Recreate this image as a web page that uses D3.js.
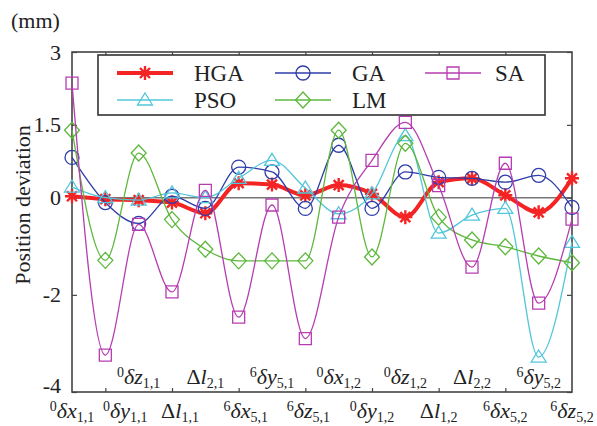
<!DOCTYPE html>
<html>
<head>
<meta charset="utf-8">
<script src="https://cdn.jsdelivr.net/npm/d3@7"></script>
<style>
body { margin: 0; background: #fff; }
svg text { font-family: "Liberation Serif", "Times New Roman", serif; fill: #222; }
</style>
</head>
<body>
<svg width="597" height="426"></svg>
<script>
// category labels: [superscript, symbol, variable, subscript]
const categories = [
  ["0","δ","x","1,1"], ["0","δ","y","1,1"], ["0","δ","z","1,1"], ["","Δ","l","1,1"],
  ["","Δ","l","2,1"], ["6","δ","x","5,1"], ["6","δ","y","5,1"], ["6","δ","z","5,1"],
  ["0","δ","x","1,2"], ["0","δ","y","1,2"], ["0","δ","z","1,2"], ["","Δ","l","1,2"],
  ["","Δ","l","2,2"], ["6","δ","x","5,2"], ["6","δ","y","5,2"], ["6","δ","z","5,2"]
];
const hga = [0.03, -0.03, -0.05, -0.1, -0.32, 0.3, 0.27, 0.05, 0.26, 0.08, -0.4, 0.32, 0.4, 0.05, -0.3, 0.4];
const ga  = [0.83, -0.1, -0.53, 0.03, -0.22, 0.63, 0.53, -0.22, 1.08, -0.22, 0.53, 0.42, 0.4, 0.32, 0.46, -0.2];
const pso = [0.22, 0.0, -0.05, 0.1, 0.0, 0.4, 0.77, 0.2, -0.33, 0.08, 1.28, -0.73, -0.36, -0.22, -3.28, -0.92];
const lm  = [1.39, -1.29, 0.92, -0.45, -1.06, -1.3, -1.3, -1.3, 1.39, -1.22, 1.12, -0.4, -0.87, -1.01, -1.2, -1.34];
const sa  = [2.36, -3.24, -0.55, -1.94, 0.15, -2.46, -0.15, -2.9, -0.4, 0.77, 1.55, 0.25, -1.43, 0.71, -2.17, -0.44];
const yTicks = [3, 1.5, 0, -2, -4];
const xTicks = [1, 3, 5, 7, 9, 11, 13];

const series = [
  {name: "HGA", values: hga, color: "#f42424", width: 4, marker: "star"},
  {name: "GA",  values: ga,  color: "#2e3ca8", width: 1.3, marker: "circle"},
  {name: "PSO", values: pso, color: "#52c6da", width: 1.3, marker: "triangle"},
  {name: "LM",  values: lm,  color: "#5db83c", width: 1.3, marker: "diamond"},
  {name: "SA",  values: sa,  color: "#b63db1", width: 1.3, marker: "square"}
];

const pLeft = 72, pRight = 572, pTop = 52, pBottom = 392;
const svg = d3.select("svg");

const x = d3.scalePoint().domain(d3.range(categories.length)).range([pLeft, pRight]);
const y = d3.scaleLinear().domain([-4, 3]).range([pBottom, pTop]);

function markerPath(type) {
  if (type == "circle") return "M7,0A7,7 0 1,1 -7,0A7,7 0 1,1 7,0Z";
  if (type == "triangle") return "M0,-7L7.5,5L-7.5,5Z";
  if (type == "diamond") return "M0,-8L7.5,0L0,8L-7.5,0Z";
  if (type == "square") return "M-6,-6H6V6H-6Z";
  return "M-7,0H7M0,-7V7M-5,-5L5,5M-5,5L5,-5";
}

// zero line
svg.append("line")
  .attr("x1", pLeft).attr("x2", pRight)
  .attr("y1", y(0)).attr("y2", y(0))
  .attr("stroke", "#777").attr("stroke-width", 1.5);

// axes, ticks pointing inward
svg.append("g").attr("transform", "translate(" + pLeft + ",0)")
  .call(d3.axisLeft(y).tickValues(yTicks).tickSize(-5).tickSizeOuter(0).tickPadding(11).tickFormat(d => String(d)))
  .call(g => g.select(".domain").remove())
  .call(g => g.selectAll("text").attr("font-size", 22).style("font-family", "Liberation Serif").attr("fill", "#222")
    .attr("dy", d => d == -4 ? "0em" : "0.32em"));
svg.append("g").attr("transform", "translate(" + pRight + ",0)")
  .call(d3.axisRight(y).tickValues(yTicks).tickSize(-5).tickSizeOuter(0).tickFormat(""))
  .call(g => g.select(".domain").remove());
svg.append("g").attr("transform", "translate(0," + pBottom + ")")
  .call(d3.axisBottom(x).tickValues(xTicks).tickSize(-4).tickSizeOuter(0).tickFormat(""))
  .call(g => g.select(".domain").remove());
svg.append("g").attr("transform", "translate(0," + pTop + ")")
  .call(d3.axisTop(x).tickValues(xTicks).tickSize(-4).tickSizeOuter(0).tickFormat(""))
  .call(g => g.select(".domain").remove());
svg.selectAll(".tick line").attr("stroke", "#444").attr("stroke-width", 1.2);

svg.append("rect")
  .attr("x", pLeft).attr("y", pTop)
  .attr("width", pRight - pLeft).attr("height", pBottom - pTop)
  .attr("fill", "none").attr("stroke", "#444").attr("stroke-width", 1.6);

// series
const line = d3.line().x((d, i) => x(i)).y(d => y(d)).curve(d3.curveMonotoneX);
series.forEach(s => {
  const g = svg.append("g");
  g.append("path")
    .attr("d", line(s.values))
    .attr("fill", "none")
    .attr("stroke", s.color)
    .attr("stroke-width", s.width)
    .attr("stroke-linejoin", "round");
  g.selectAll("path.mk")
    .data(s.values)
    .enter()
    .append("path")
    .attr("class", "mk")
    .attr("transform", (d, i) => "translate(" + x(i) + "," + y(d) + ")")
    .attr("d", markerPath(s.marker))
    .attr("fill", "none")
    .attr("stroke", s.color)
    .attr("stroke-width", s.marker == "star" ? 2.4 : 1.3);
});

// legend
const legend = svg.append("g");
legend.append("rect")
  .attr("x", 98).attr("y", 55).attr("width", 447).attr("height", 60)
  .attr("fill", "#fff").attr("stroke", "#333").attr("stroke-width", 1.6);
const legendSlots = {HGA: [117, 73], GA: [275, 73], SA: [425, 73], PSO: [117, 100], LM: [275, 100]};
series.forEach(s => {
  const p = legendSlots[s.name];
  const g = legend.append("g").attr("transform", "translate(" + p[0] + "," + p[1] + ")");
  g.append("line").attr("x1", 0).attr("x2", 56)
    .attr("stroke", s.color).attr("stroke-width", s.width);
  g.append("path").attr("transform", "translate(28,0)")
    .attr("d", markerPath(s.marker)).attr("fill", "none")
    .attr("stroke", s.color).attr("stroke-width", s.marker == "star" ? 2.4 : 1.3);
  g.append("text").attr("x", s.name == "SA" ? 70 : 77).attr("dy", "0.35em")
    .attr("font-size", 23).text(s.name);
});

// category labels, two staggered rows
const nudge = {1: 20, 3: 8, 5: 7, 7: 3};
categories.forEach((c, i) => {
  const t = svg.append("text")
    .attr("x", x(i) + (nudge[i] || 0))
    .attr("y", i % 2 == 0 && i > 0 && i < 15 ? 384 : 418)
    .attr("text-anchor", "middle")
    .attr("font-size", 22);
  if (c[0]) t.append("tspan").attr("font-size", 14).attr("dy", -7).text(c[0]);
  t.append("tspan").attr("dy", c[0] ? 7 : 0).attr("font-style", c[1] == "δ" ? "italic" : "normal").text(c[1]);
  t.append("tspan").attr("font-style", "italic").text(c[2]);
  t.append("tspan").attr("font-size", 14).attr("dy", 4).text(c[3]);
});

svg.append("text")
  .attr("transform", "translate(30,205) rotate(-90)")
  .attr("text-anchor", "middle")
  .attr("font-size", 22)
  .text("Position deviation");

svg.append("text")
  .attr("x", 11).attr("y", 28)
  .attr("font-size", 22)
  .text("(mm)");
</script>
</body>
</html>
